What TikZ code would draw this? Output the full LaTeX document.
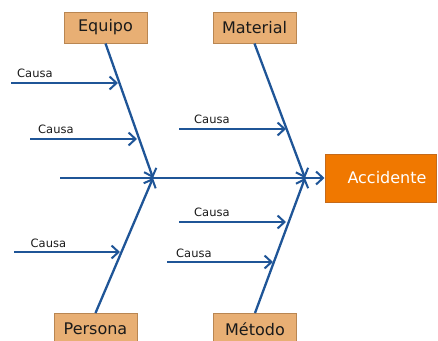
\documentclass[tikz,border=0pt]{standalone}
\usepackage{fontspec}
\setmainfont{DejaVu Sans}
\usetikzlibrary{arrows.meta}
\definecolor{boneblue}{HTML}{1F5597}
\definecolor{tanfill}{HTML}{E8AF74}
\definecolor{tanline}{HTML}{B98652}
\definecolor{accfill}{HTML}{F07800}
\definecolor{accline}{HTML}{C56A1A}
\definecolor{txt}{HTML}{1A1A1A}
\tikzset{
  catbox/.style={draw=tanline, fill=tanfill, line width=1pt, minimum width=83pt, minimum height=31pt, inner sep=0pt, font=\fontsize{16}{18}\selectfont, text=txt},
  effbox/.style={draw=accline, fill=accfill, line width=1pt, minimum width=111pt, minimum height=48pt, inner sep=0pt, font=\fontsize{16}{18}\selectfont, text=white},
  bone/.style={draw=boneblue, line width=2.3pt, -{Straight Barb[length=7pt,width=13pt,line width=2pt]}},
  causelbl/.style={anchor=base west, inner sep=0pt, font=\fontsize{11.5}{13}\selectfont, text=txt}
}
\begin{document}
\begin{tikzpicture}[x=1pt,y=-1pt]
\useasboundingbox (0,0) rectangle (438,340);
% category boxes
\node[catbox] (equipo) at (105.5,27.5) {Equipo};
\node[catbox] (material) at (254.5,27.5) {Material};
\node[catbox] (persona) at (95.5,329) {Persona};
\node[catbox] (metodo) at (255,329) {Método};
\node[effbox] (acc) at (380.5,178) {\hspace*{13pt}Accidente};
% junctions
\coordinate (j1) at (153,178);
\coordinate (j2) at (305,178);
\coordinate (spine) at (60,178);
% spine
\draw[bone] (spine) -- (acc.west);
% main bones
\draw[bone] (equipo.south) -- (j1);
\draw[bone] (persona.north) -- (j1);
\draw[bone] (material.south) -- (j2);
\draw[bone] (metodo.north) -- (j2);
% causes
\coordinate (s1) at (11,83);  \coordinate (e1) at (118,83);
\coordinate (s2) at (30,139); \coordinate (e2) at (137,139);
\coordinate (s3) at (179,129); \coordinate (e3) at (286,129);
\coordinate (s4) at (14,252); \coordinate (e4) at (120,252);
\coordinate (s5) at (179,222); \coordinate (e5) at (286,222);
\coordinate (s6) at (167,262); \coordinate (e6) at (273,262);
\draw[bone] (s1) -- (e1);
\draw[bone] (s2) -- (e2);
\draw[bone] (s3) -- (e3);
\draw[bone] (s4) -- (e4);
\draw[bone] (s5) -- (e5);
\draw[bone] (s6) -- (e6);
\node[causelbl] (l1) at (17,77) {Causa};
\node[causelbl] (l2) at (38,133) {Causa};
\node[causelbl] (l3) at (194,123) {Causa};
\node[causelbl] (l4) at (30.5,247) {Causa};
\node[causelbl] (l5) at (194,216) {Causa};
\node[causelbl] (l6) at (176,257) {Causa};
\end{tikzpicture}
\end{document}
